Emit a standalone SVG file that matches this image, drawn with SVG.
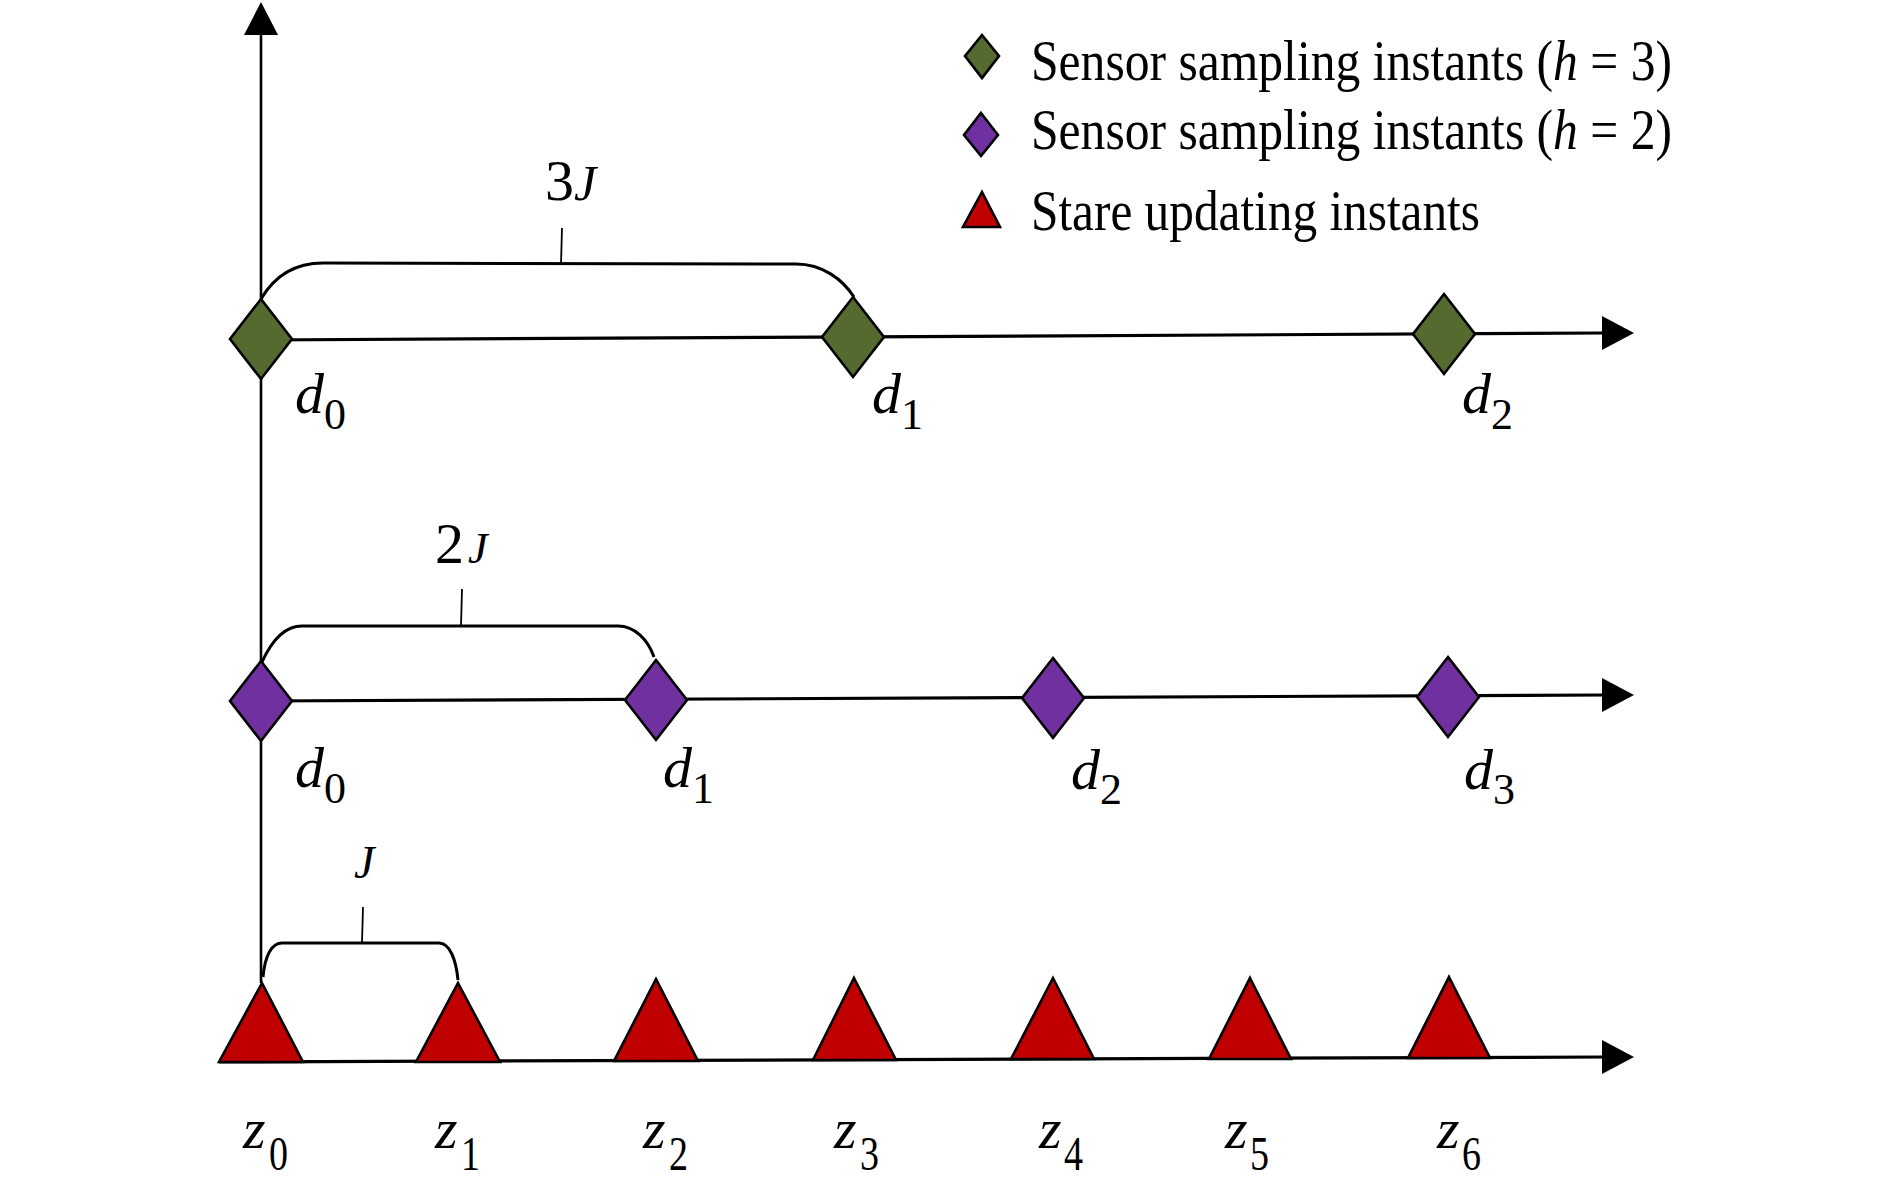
<svg xmlns="http://www.w3.org/2000/svg" width="1890" height="1200" viewBox="0 0 1890 1200">
<style>
.ax{stroke:#000;stroke-width:3.2;fill:none}
.vx{stroke:#000;stroke-width:2.6;fill:none}
.br{stroke:#000;stroke-width:3;fill:none}
.tk{stroke:#000;stroke-width:1.8;fill:none}
.ah{fill:#000}
.g{fill:#546a2f;stroke:#000;stroke-width:2.6;stroke-linejoin:miter}
.p{fill:#7030a0;stroke:#000;stroke-width:2.6}
.r{fill:#c00000;stroke:#000;stroke-width:2.6;stroke-linejoin:miter}
text{font-family:"Liberation Serif","Times New Roman",serif;fill:#000}
.lg{font-size:56px}
.it{font-style:italic}
.var{font-size:58px;font-style:italic}
.sub{font-size:44px}
.zs{font-size:48px}
.num{font-size:58px}
</style>
<rect width="1890" height="1200" fill="#fff"/>
<g id="connectors">
  <line class="vx" x1="261" y1="983" x2="261" y2="33"/>
  <polygon class="ah" points="261,2 244,35 278,35"/>
  <line class="ax" x1="261" y1="340" x2="1604" y2="333"/>
  <polygon class="ah" points="1602,316 1634,333 1602,350"/>
  <line class="ax" x1="261" y1="701" x2="1604" y2="695"/>
  <polygon class="ah" points="1602,678 1634,695 1602,712"/>
  <line class="ax" x1="219" y1="1062" x2="1604" y2="1057"/>
  <polygon class="ah" points="1602,1040 1634,1057 1602,1074"/>
  <path class="br" d="M261,299 C275,275 295,263 323,263 L796,264 C823,264 843,280 854,297"/>
  <line class="tk" x1="561" y1="264" x2="562" y2="228"/>
  <path class="br" d="M262,662 C272,640 285,626 302,626 L618,626 C635,626 648,640 654,657"/>
  <line class="tk" x1="461" y1="626" x2="462" y2="589"/>
  <path class="br" d="M263,977 C265,955 272,943 282,943 L439,943 C450,943 456,960 458,980"/>
  <line class="tk" x1="362" y1="943" x2="363" y2="907"/>
</g>
<g id="label-3J"><text class="num" x="545" y="200">3</text><text class="it" font-size="50" x="574" y="200">J</text></g>
<g id="label-2J"><text class="num" x="435" y="563">2</text><text class="it" font-size="44" x="468" y="563">J</text></g>
<g id="label-J"><text class="it" font-size="46" x="354" y="878">J</text></g>
<g id="h3-d0"><polygon class="g" points="261,299 292,339 261,379 230,339"/><text class="var" x="295" y="413">d</text><text class="sub" x="324" y="429">0</text></g>
<g id="h3-d1"><polygon class="g" points="853,297 884,337 853,377 822,337"/><text class="var" x="872" y="413">d</text><text class="sub" x="901" y="429">1</text></g>
<g id="h3-d2"><polygon class="g" points="1444,294 1475,334 1444,374 1413,334"/><text class="var" x="1462" y="413">d</text><text class="sub" x="1491" y="429">2</text></g>
<g id="h2-d0"><polygon class="p" points="261,661 292,701 261,741 230,701"/><text class="var" x="295" y="787">d</text><text class="sub" x="324" y="803">0</text></g>
<g id="h2-d1"><polygon class="p" points="656,660 687,700 656,740 625,700"/><text class="var" x="663" y="787">d</text><text class="sub" x="692" y="803">1</text></g>
<g id="h2-d2"><polygon class="p" points="1053,658 1084,698 1053,738 1022,698"/><text class="var" x="1071" y="789">d</text><text class="sub" x="1100" y="804">2</text></g>
<g id="h2-d3"><polygon class="p" points="1448,657 1479,697 1448,737 1417,697"/><text class="var" x="1464" y="789">d</text><text class="sub" x="1493" y="804">3</text></g>
<g id="z0"><polygon class="r" points="262,983 303,1062 219,1062"/><text class="var" x="243" y="1148">z</text><text class="zs" x="269" y="1170" textLength="19" lengthAdjust="spacingAndGlyphs">0</text></g>
<g id="z1"><polygon class="r" points="458,983 500,1062 416,1062"/><text class="var" x="435" y="1148">z</text><text class="zs" x="461" y="1170" textLength="19" lengthAdjust="spacingAndGlyphs">1</text></g>
<g id="z2"><polygon class="r" points="656,979 698,1061 614,1061"/><text class="var" x="643" y="1148">z</text><text class="zs" x="669" y="1170" textLength="19" lengthAdjust="spacingAndGlyphs">2</text></g>
<g id="z3"><polygon class="r" points="854,978 896,1060 813,1060"/><text class="var" x="834" y="1148">z</text><text class="zs" x="860" y="1170" textLength="19" lengthAdjust="spacingAndGlyphs">3</text></g>
<g id="z4"><polygon class="r" points="1053,978 1094,1059 1011,1059"/><text class="var" x="1039" y="1148">z</text><text class="zs" x="1064" y="1170" textLength="19" lengthAdjust="spacingAndGlyphs">4</text></g>
<g id="z5"><polygon class="r" points="1250,978 1291,1059 1209,1059"/><text class="var" x="1225" y="1148">z</text><text class="zs" x="1250" y="1170" textLength="19" lengthAdjust="spacingAndGlyphs">5</text></g>
<g id="z6"><polygon class="r" points="1449,977 1490,1058 1408,1058"/><text class="var" x="1437" y="1148">z</text><text class="zs" x="1462" y="1170" textLength="19" lengthAdjust="spacingAndGlyphs">6</text></g>
<g id="legend">
  <g id="legend-h3"><polygon class="g" points="982,35 999,56 982,78 965,56"/><text class="lg" x="1031" y="80" textLength="641" lengthAdjust="spacingAndGlyphs">Sensor sampling instants (<tspan class="it">h</tspan> = 3)</text></g>
  <g id="legend-h2"><polygon class="p" points="981,113 998,135 981,156 964,135"/><text class="lg" x="1031" y="149" textLength="641" lengthAdjust="spacingAndGlyphs">Sensor sampling instants (<tspan class="it">h</tspan> = 2)</text></g>
  <g id="legend-state"><polygon class="r" points="982,192 1000,227 963,227"/><text class="lg" x="1031" y="230" textLength="449" lengthAdjust="spacingAndGlyphs">Stare updating instants</text></g>
</g>
</svg>
